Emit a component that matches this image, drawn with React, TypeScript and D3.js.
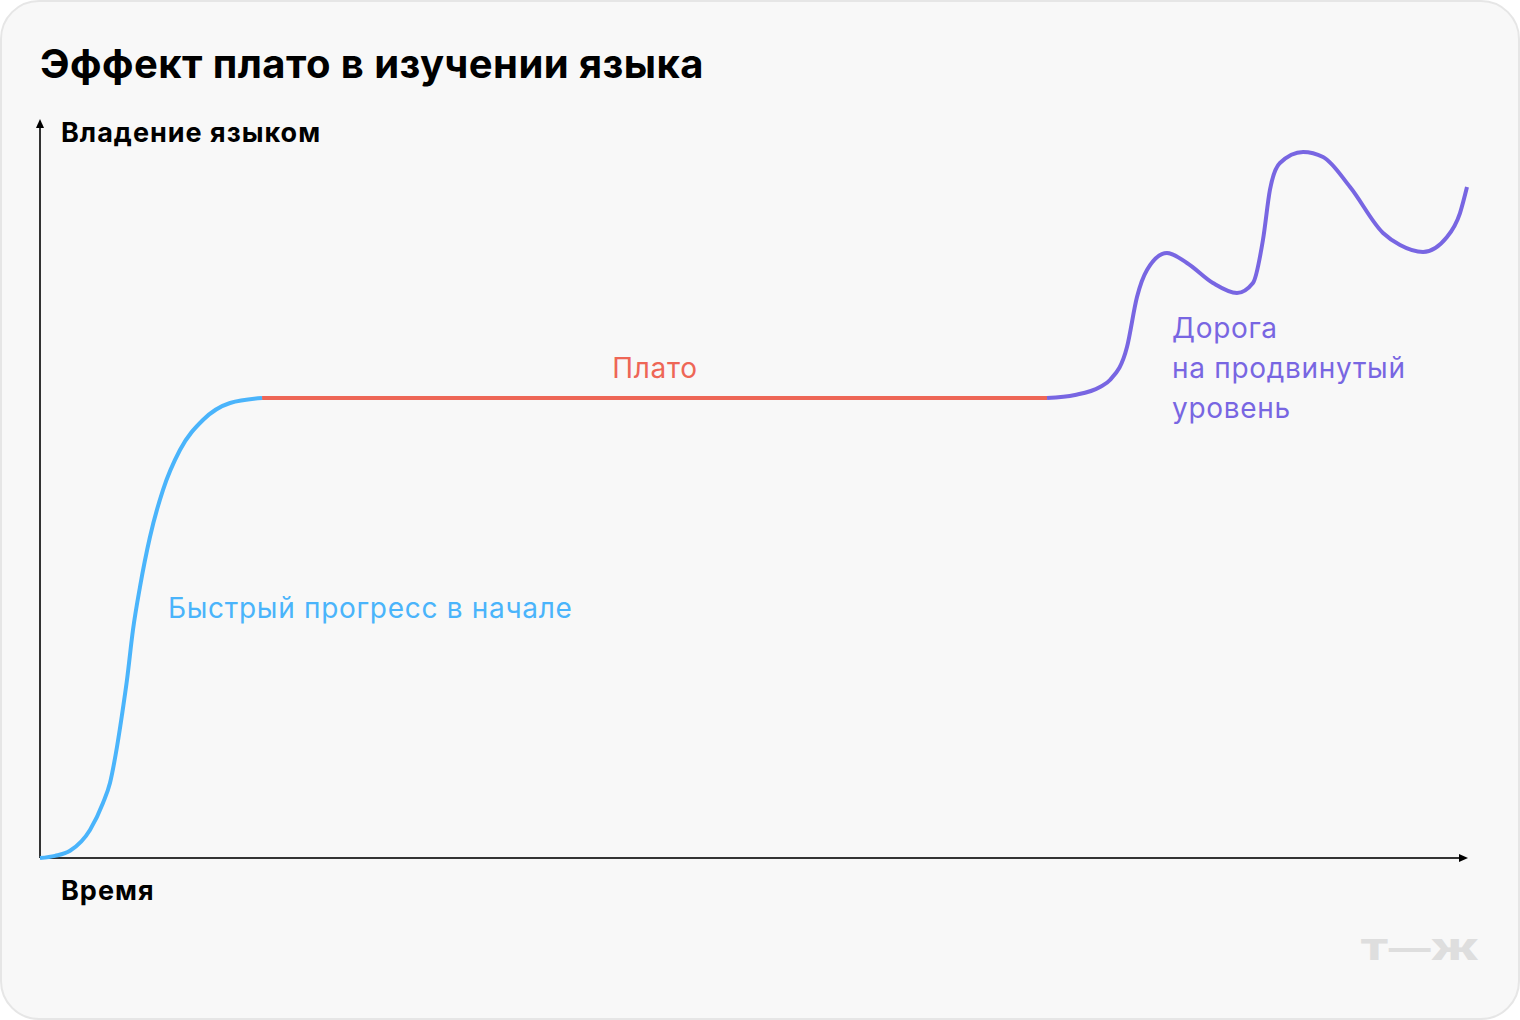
import React from "react";
import * as d3 from "d3";

// Data (time units 0..100, proficiency units 0..100)
const rapidTime = [0, 1.05, 2.1, 3.5, 4.41, 4.9, 5.39, 5.74, 6.09, 6.51, 7.0, 7.7, 8.61, 9.8, 11.41, 13.31, 15.55];
const rapidLevel = [0, 0.3, 1.0, 3.89, 7.64, 10.42, 15.42, 19.86, 24.72, 31.67, 37.64, 44.58, 51.11, 56.67, 60.83, 63.19, 63.89];
const plateauTime = [15.55, 70.52];
const plateauLevel = [63.89, 63.89];
const advTime = [70.52, 72.48, 74.23, 74.93, 76.12, 76.82, 77.52, 78.92, 80.32, 82.14, 83.82, 84.94, 85.64, 86.13, 86.83, 88.45, 89.85, 91.74, 94.05, 95.24, 96.85, 98.53, 99.44, 99.93];
const advLevel = [63.89, 64.31, 65.42, 66.39, 70.97, 77.92, 81.67, 84.03, 82.64, 79.86, 78.47, 79.86, 85.83, 92.78, 96.53, 98.06, 97.36, 93.19, 86.81, 85.14, 84.17, 86.25, 89.58, 93.19];

const titleText = "Эффект плато в изучении языка";
const yAxisLabel = "Владение языком";
const xAxisLabel = "Время";
const rapidLabel = "Быстрый прогресс в начале";
const plateauLabel = "Плато";
const advLabelLines = ["Дорога", "на продвинутый", "уровень"];

const W = 1520;
const H = 1020;
const BLUE = "#4ab4fb";
const RED = "#ee6656";
const PURPLE = "#7866e2";

export default function App() {
  const x = d3.scaleLinear().domain([0, 100]).range([40, 1468]);
  const y = d3.scaleLinear().domain([0, 100]).range([858, 138]);
  const line = d3
    .line<[number, number]>()
    .x((d) => x(d[0]))
    .y((d) => y(d[1]))
    .curve(d3.curveMonotoneX);
  const zip = (a: number[], b: number[]) => a.map((v, i) => [v, b[i]] as [number, number]);
  const font = "Inter, 'Noto Sans', sans-serif";

  return (
    <svg
      width={W}
      height={H}
      style={{ position: "absolute", left: 0, top: 0, display: "block" }}
      fontFamily={font}
    >
      <rect x={1} y={1} width={W - 2} height={H - 2} rx={38} fill="#f8f8f8" stroke="#e6e6e6" strokeWidth={2} />
      <text x={40} y={78} fontSize={40} fontWeight={700} fill="#000" letterSpacing={0.45}>
        {titleText}
      </text>

      {/* axes */}
      <line x1={x(0)} y1={y(0)} x2={x(0)} y2={126} stroke="#333" strokeWidth={2} />
      <path d={`M${x(0) - 4},128 L${x(0)},119 L${x(0) + 4},128 Z`} fill="#000" />
      <line x1={x(0)} y1={y(0)} x2={1461} y2={y(0)} stroke="#333" strokeWidth={2} />
      <path d={`M1459,${y(0) - 4} L1468,${y(0)} L1459,${y(0) + 4} Z`} fill="#000" />
      <text x={61} y={142} fontSize={27} fontWeight={700} fill="#000" letterSpacing={1}>
        {yAxisLabel}
      </text>
      <text x={61} y={900} fontSize={27} fontWeight={700} fill="#000" letterSpacing={1}>
        {xAxisLabel}
      </text>

      {/* curves */}
      <path d={line(zip(plateauTime, plateauLevel)) || ""} fill="none" stroke={RED} strokeWidth={4} />
      <path d={line(zip(rapidTime, rapidLevel)) || ""} fill="none" stroke={BLUE} strokeWidth={4} />
      <path d={line(zip(advTime, advLevel)) || ""} fill="none" stroke={PURPLE} strokeWidth={4} />

      {/* annotations */}
      <text x={168} y={618} fontSize={28} fill={BLUE} letterSpacing={0.7}>
        {rapidLabel}
      </text>
      <text x={655} y={378} fontSize={28} fill={RED} textAnchor="middle" letterSpacing={0.7}>
        {plateauLabel}
      </text>
      {advLabelLines.map((t, i) => (
        <text key={t} x={1172} y={338 + i * 40} fontSize={28} fill={PURPLE} letterSpacing={0.7}>
          {t}
        </text>
      ))}

      {/* logo */}
      <text
        x={1360}
        y={960}
        fontSize={28}
        fontWeight={900}
        fill="#dedede"
        textLength={119}
        lengthAdjust="spacingAndGlyphs"
      >
        Т—Ж
      </text>
    </svg>
  );
}
